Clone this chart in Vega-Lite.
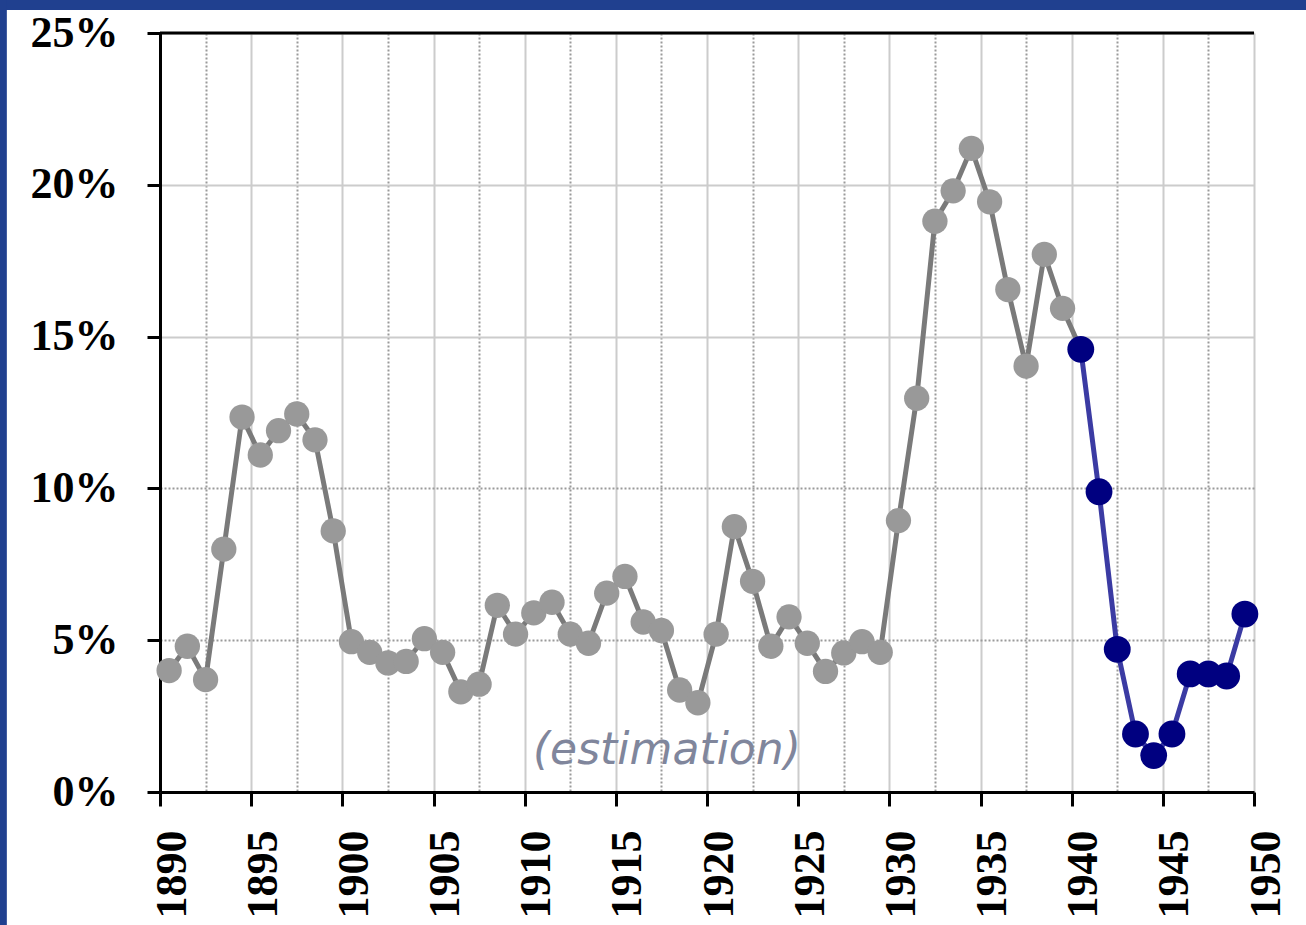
{
  "$schema": "https://vega.github.io/schema/vega-lite/v6.json",
  "width": 1094,
  "height": 759,
  "autosize": {"type": "none"},
  "padding": {"left": 160, "top": 33, "right": 52, "bottom": 133},
  "background": "white",
  "config": {"view": {"stroke": null}},
  "datasets": {
    "rate": [
      {"year": 1890, "value": 4.0}, {"year": 1891, "value": 4.8}, {"year": 1892, "value": 3.7},
      {"year": 1893, "value": 8.0}, {"year": 1894, "value": 12.35}, {"year": 1895, "value": 11.1},
      {"year": 1896, "value": 11.9}, {"year": 1897, "value": 12.45}, {"year": 1898, "value": 11.6},
      {"year": 1899, "value": 8.6}, {"year": 1900, "value": 4.95}, {"year": 1901, "value": 4.6},
      {"year": 1902, "value": 4.25}, {"year": 1903, "value": 4.3}, {"year": 1904, "value": 5.05},
      {"year": 1905, "value": 4.6}, {"year": 1906, "value": 3.3}, {"year": 1907, "value": 3.55},
      {"year": 1908, "value": 6.15}, {"year": 1909, "value": 5.2}, {"year": 1910, "value": 5.9},
      {"year": 1911, "value": 6.25}, {"year": 1912, "value": 5.2}, {"year": 1913, "value": 4.9},
      {"year": 1914, "value": 6.55}, {"year": 1915, "value": 7.1}, {"year": 1916, "value": 5.6},
      {"year": 1917, "value": 5.32}, {"year": 1918, "value": 3.36}, {"year": 1919, "value": 2.94},
      {"year": 1920, "value": 5.2}, {"year": 1921, "value": 8.74}, {"year": 1922, "value": 6.94},
      {"year": 1923, "value": 4.8}, {"year": 1924, "value": 5.77}, {"year": 1925, "value": 4.9},
      {"year": 1926, "value": 3.97}, {"year": 1927, "value": 4.58}, {"year": 1928, "value": 4.95},
      {"year": 1929, "value": 4.6}, {"year": 1930, "value": 8.94}, {"year": 1931, "value": 12.97},
      {"year": 1932, "value": 18.8}, {"year": 1933, "value": 19.8}, {"year": 1934, "value": 21.2},
      {"year": 1935, "value": 19.44}, {"year": 1936, "value": 16.55}, {"year": 1937, "value": 14.03},
      {"year": 1938, "value": 17.71}, {"year": 1939, "value": 15.93}, {"year": 1940, "value": 14.58},
      {"year": 1941, "value": 9.89}, {"year": 1942, "value": 4.7}, {"year": 1943, "value": 1.91},
      {"year": 1944, "value": 1.2}, {"year": 1945, "value": 1.91}, {"year": 1946, "value": 3.89},
      {"year": 1947, "value": 3.89}, {"year": 1948, "value": 3.82}, {"year": 1949, "value": 5.86}
    ],
    "note": [{"label": "(estimation)", "year": 1917.8, "value": 1.35}]
  },
  "layer": [
    {
      "data": {"name": "rate"},
      "transform": [{"filter": "datum.year <= 1940"}],
      "mark": {"type": "line", "color": "#7a7a7a", "strokeWidth": 5},
      "encoding": {
        "x": {
          "field": "year",
          "type": "quantitative",
          "bin": {"step": 1, "extent": [1890, 1950]},
          "bandPosition": 0.5,
          "scale": {"domain": [1890, 1950], "nice": false, "zero": false},
          "axis": {
            "title": null,
            "values": [1890, 1892.5, 1895, 1897.5, 1900, 1902.5, 1905, 1907.5, 1910, 1912.5, 1915, 1917.5, 1920, 1922.5, 1925, 1927.5, 1930, 1932.5, 1935, 1937.5, 1940, 1942.5, 1945, 1947.5, 1950],
            "format": "d",
            "labelExpr": "datum.value % 5 == 0 ? datum.label : ''",
            "labelAngle": 270,
            "labelFont": "Liberation Serif",
            "labelFontWeight": "bold",
            "labelFontSize": 44,
            "labelColor": "black",
            "labelOffset": 12,
            "labelPadding": 24,
            "labelOverlap": false,
            "labelFlush": false,
            "labelBound": false,
            "tickSize": 14,
            "tickWidth": 3,
            "tickColor": "black",
            "tickOpacity": {"condition": {"test": "datum.value % 5 != 0", "value": 0}, "value": 1},
            "domainColor": "black",
            "domainWidth": 3,
            "grid": true,
            "gridWidth": 2,
            "gridColor": {"condition": {"test": "datum.value % 5 == 0", "value": "#cccccc"}, "value": "#9a9a9a"},
            "gridDash": {"condition": {"test": "datum.value % 5 == 0", "value": []}, "value": [2, 2]}
          }
        },
        "y": {
          "field": "value",
          "type": "quantitative",
          "scale": {"domain": [0, 25], "nice": false, "zero": false},
          "axis": {
            "title": null,
            "values": [0, 5, 10, 15, 20, 25],
            "labelExpr": "datum.value + '%'",
            "labelFont": "Liberation Serif",
            "labelFontWeight": "bold",
            "labelFontSize": 44,
            "labelColor": "black",
            "labelPadding": 29,
            "labelBaseline": "middle",
            "labelFlush": false,
            "labelOverlap": false,
            "tickSize": 13,
            "tickWidth": 3,
            "tickColor": "black",
            "domainColor": "black",
            "domainWidth": 3,
            "grid": true,
            "gridWidth": 2,
            "gridColor": {"condition": {"test": "datum.value >= 15", "value": "#cccccc"}, "value": "#9a9a9a"},
            "gridDash": {"condition": {"test": "datum.value >= 15", "value": []}, "value": [2, 2]}
          }
        }
      }
    },
    {
      "data": {"name": "rate"},
      "transform": [{"filter": "datum.year >= 1940"}],
      "mark": {"type": "line", "color": "#3b3ba3", "strokeWidth": 5},
      "encoding": {
        "x": {"field": "year", "type": "quantitative", "bin": {"step": 1, "extent": [1890, 1950]}, "bandPosition": 0.5, "scale": {"domain": [1890, 1950], "nice": false, "zero": false}},
        "y": {"field": "value", "type": "quantitative", "scale": {"domain": [0, 25], "nice": false, "zero": false}}
      }
    },
    {
      "data": {"name": "rate"},
      "transform": [{"filter": "datum.year < 1940"}],
      "mark": {"type": "point", "shape": "circle", "filled": true, "color": "#999999", "opacity": 1, "size": 640},
      "encoding": {
        "x": {"field": "year", "type": "quantitative", "bin": {"step": 1, "extent": [1890, 1950]}, "bandPosition": 0.5, "scale": {"domain": [1890, 1950], "nice": false, "zero": false}},
        "y": {"field": "value", "type": "quantitative", "scale": {"domain": [0, 25], "nice": false, "zero": false}}
      }
    },
    {
      "data": {"name": "rate"},
      "transform": [{"filter": "datum.year >= 1940"}],
      "mark": {"type": "point", "shape": "circle", "filled": true, "color": "#000080", "opacity": 1, "size": 720},
      "encoding": {
        "x": {"field": "year", "type": "quantitative", "bin": {"step": 1, "extent": [1890, 1950]}, "bandPosition": 0.5, "scale": {"domain": [1890, 1950], "nice": false, "zero": false}},
        "y": {"field": "value", "type": "quantitative", "scale": {"domain": [0, 25], "nice": false, "zero": false}}
      }
    },
    {
      "data": {"name": "note"},
      "mark": {"type": "text", "font": "DejaVu Sans", "fontStyle": "italic", "fontSize": 44, "color": "#80869c", "align": "center", "baseline": "middle"},
      "encoding": {
        "x": {"field": "year", "type": "quantitative", "scale": {"domain": [1890, 1950], "nice": false, "zero": false}},
        "y": {"field": "value", "type": "quantitative", "scale": {"domain": [0, 25], "nice": false, "zero": false}},
        "text": {"field": "label"}
      }
    },
    {
      "data": {"values": [{"edge": "top"}]},
      "mark": {"type": "rule", "color": "black", "strokeWidth": 3},
      "encoding": {"y": {"datum": 25, "scale": {"domain": [0, 25], "nice": false, "zero": false}}}
    },
    {
      "data": {"values": [{"edge": "top"}]},
      "mark": {"type": "rect", "color": "#20408f"},
      "encoding": {
        "x": {"datum": 1800, "scale": {"domain": [1890, 1950], "nice": false, "zero": false}},
        "x2": {"datum": 2000},
        "y": {"datum": 25.76, "scale": {"domain": [0, 25], "nice": false, "zero": false}},
        "y2": {"datum": 45}
      }
    },
    {
      "data": {"values": [{"edge": "left"}]},
      "mark": {"type": "rect", "color": "#20408f"},
      "encoding": {
        "x": {"datum": 1800, "scale": {"domain": [1890, 1950], "nice": false, "zero": false}},
        "x2": {"datum": 1881.6},
        "y": {"datum": -20, "scale": {"domain": [0, 25], "nice": false, "zero": false}},
        "y2": {"datum": 45}
      }
    }
  ]
}
